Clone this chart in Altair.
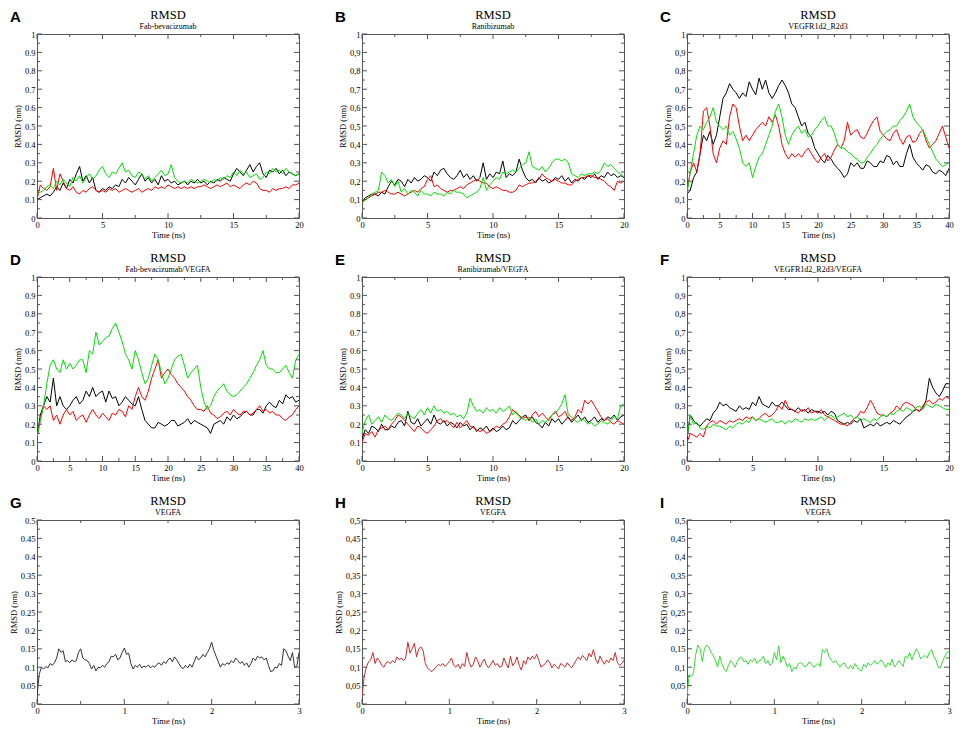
import altair as alt
import pandas as pd
import numpy as np

# ---------------- data (RMSD in hundredths of nm for A-F, thousandths for G-I) -------------
A_BLACK = [10,11,12,13,12,14,17,15,19,16, 21,19,24,28,20,23,19,22,15,14,
           16,15,17,16,18,17,21,19,22,20, 18,21,24,20,22,19,21,18,23,20,
           21,19,20,18,19,20,18,20,19,21, 19,20,18,20,19,21,20,22,21,20,
           24,27,25,23,26,29,25,28,30,24, 22,26,25,27,24,26,23,25,24,23, 24]
A_RED = [10,18,16,15,17,27,15,24,20,16, 15,17,14,13,15,14,16,17,15,14,
         15,14,16,15,16,14,15,16,15,14, 15,16,14,15,16,15,17,16,17,16,
         18,17,16,17,16,17,16,17,16,17, 17,18,17,16,17,18,17,18,19,17,
         18,17,16,18,19,18,20,19,16,15, 15,14,16,15,16,16,17,16,18,18, 19]
A_GREEN = [13,14,15,17,18,16,20,18,21,19, 17,22,20,23,19,22,24,21,23,26,
           28,24,22,25,24,27,30,25,26,23, 22,25,24,21,23,20,22,24,26,23,
           24,29,22,20,19,20,19,21,20,19, 20,21,20,19,21,20,22,21,23,22,
           25,23,26,24,25,22,23,24,21,22, 25,24,27,25,26,24,27,25,24,23, 24]

B_BLACK = [9,11,12,13,13,12,14,13,17,20, 18,21,20,17,21,19,22,20,21,23,
           22,20,25,23,26,27,24,22,21,23, 26,22,24,21,23,20,22,30,21,24,
           22,25,24,31,22,24,23,25,32,26, 22,20,21,19,22,20,21,19,20,22,
           21,23,20,22,19,21,20,22,21,23, 22,24,21,23,22,25,23,24,22,23, 22]
B_RED = [9,10,11,12,13,14,14,15,14,13, 13,14,13,12,13,14,15,14,16,17,
         21,23,17,18,16,15,14,15,15,16, 17,16,18,19,20,21,20,19,19,17,
         16,17,16,15,15,14,14,15,18,17, 18,19,19,20,21,24,22,21,20,21,
         20,19,19,18,18,20,21,22,22,23, 23,22,22,21,20,18,17,15,20,19, 20]
B_GREEN = [8,10,11,13,14,15,25,23,19,21, 17,20,14,16,13,15,14,12,15,13,
           13,12,14,13,13,12,14,13,15,14, 14,13,11,12,13,14,16,22,15,18,
           20,22,21,25,24,25,26,25,27,29, 30,36,28,27,26,28,25,27,30,32,
           32,31,32,30,24,23,22,24,23,24, 24,25,24,26,30,28,29,27,25,24, 22]

C_BLACK = [13,15,22,25,35,45,42,47,40,45, 55,65,68,73,70,68,65,68,66,74,
           70,67,76,70,75,68,65,68,72,75, 72,68,62,60,55,50,52,46,44,38,
           35,32,30,34,32,29,27,25,22,24, 30,28,30,27,27,31,30,28,28,31,
           30,34,33,29,31,28,28,35,40,33, 30,28,26,29,28,25,24,26,25,23, 27]
C_RED = [15,25,30,25,35,58,60,50,35,30, 38,42,40,55,62,60,50,42,45,42,
         45,48,50,52,50,55,52,56,50,40, 35,32,35,33,35,33,36,38,35,32,
         30,33,35,31,33,37,40,38,42,52, 45,47,48,44,43,46,50,53,55,47,
         45,43,42,46,48,43,40,44,45,41, 42,46,48,42,38,40,42,46,50,44, 38]
C_GREEN = [13,25,35,45,50,48,52,55,60,52, 50,48,50,45,47,43,38,30,28,30,
           22,28,33,35,40,45,50,58,62,55, 45,40,45,48,50,46,48,44,45,48,
           50,53,55,50,50,46,40,38,38,36, 35,33,32,30,30,33,35,38,40,43,
           45,47,48,50,50,53,55,58,62,55, 52,50,48,44,40,36,32,30,28,29, 30]

D_BLACK = [13,25,30,35,32,45,30,35,30,28, 30,33,35,31,33,38,35,40,35,37,
           38,32,38,34,35,30,32,35,33,31, 30,35,28,22,20,18,18,21,20,19,
           20,22,22,19,20,21,23,20,22,21, 20,19,18,15,20,21,22,20,24,22,
           25,23,24,26,27,25,25,28,28,26, 30,32,30,29,33,31,36,34,35,32, 33]
D_RED = [13,22,30,28,30,22,25,20,25,28, 25,27,22,24,25,21,25,28,25,23,
         26,24,22,26,25,28,27,24,30,28, 35,40,35,33,38,45,50,55,45,48,
         50,47,45,42,40,38,35,33,30,28, 28,27,30,26,25,23,24,26,27,25,
         28,26,25,27,27,25,26,28,30,27, 28,26,27,25,25,23,22,24,25,28, 30]
D_GREEN = [13,22,30,42,52,55,50,48,55,50, 53,50,52,55,55,48,60,58,70,63,
           65,67,68,72,75,70,65,58,55,50, 60,55,48,42,45,52,58,55,48,42,
           45,50,55,57,58,52,45,48,50,52, 40,32,28,30,35,38,40,42,38,36,
           35,36,38,40,42,45,48,52,55,60, 52,50,50,48,48,50,52,48,45,55, 58]

E_BLACK = [12,17,15,19,18,16,20,17,17,19, 18,21,22,19,27,21,20,23,19,21,
           23,20,25,21,20,22,19,21,20,18, 21,19,20,17,19,16,18,17,19,16,
           18,16,17,19,17,18,22,20,22,24, 25,22,24,21,20,18,21,19,23,21,
           23,20,22,24,21,23,25,22,24,21, 22,24,21,23,22,24,23,25,22,24, 25]
E_RED = [10,15,14,16,13,17,18,19,17,20, 22,25,24,22,20,18,16,19,18,16,
         15,17,19,22,23,21,22,20,18,21, 18,20,22,19,18,17,16,17,15,16,
         17,19,18,20,21,24,28,26,25,23, 24,22,25,27,24,26,24,22,25,27,
         24,25,27,23,22,24,28,26,33,31, 33,30,27,24,22,23,21,20,22,21, 20]
E_GREEN = [15,22,25,20,22,24,21,25,23,22, 24,26,25,23,26,24,23,26,28,25,
           29,26,30,27,28,26,27,25,26,24, 25,23,26,34,30,27,28,26,29,27,
           28,26,29,27,28,30,25,27,24,23, 22,24,21,23,20,22,21,23,25,26,
           28,31,36,25,24,22,21,23,22,20, 21,19,20,22,21,20,22,24,23,30, 31]

F_BLACK = [12,25,22,20,19,21,23,22,26,28, 32,30,31,29,28,27,30,28,29,28,
           32,30,35,31,30,29,32,30,30,32, 30,28,28,27,29,27,28,26,28,27,
           27,26,27,25,27,26,22,21,20,21, 20,22,21,23,18,19,20,19,21,19,
           20,21,20,22,21,20,22,24,25,27, 28,27,29,33,45,40,37,35,38,42, 42]
F_RED = [10,15,14,13,15,13,19,21,22,20, 22,21,20,22,21,22,23,22,24,23,
         24,22,23,25,26,24,25,27,30,28, 33,29,28,27,26,28,27,29,26,27,
         26,28,25,24,23,22,21,20,20,19, 21,23,24,27,26,29,33,30,26,25,
         25,24,26,27,30,28,31,32,31,30, 28,27,30,32,33,31,32,34,33,35, 34]
F_GREEN = [13,25,20,21,18,17,19,18,20,19, 19,18,17,19,18,20,21,20,22,21,
           24,22,23,22,21,22,23,21,21,22, 20,22,21,23,22,21,23,22,23,22,
           23,24,22,24,25,23,24,25,26,24, 25,23,24,22,23,22,21,23,22,24,
           25,24,26,25,27,28,27,29,28,27, 29,30,28,31,30,29,31,30,29,28, 28]

G_VEGFA = [20,80,100,95,102,98,110,105,112,125, 150,140,145,115,118,112,120,115,118,140,
           150,125,120,118,110,95,105,90,100,98, 105,100,110,115,130,128,135,120,125,140,
           152,135,138,110,95,105,100,108,98,103, 100,106,98,104,100,108,112,105,115,110,
           120,125,115,128,120,110,100,96,105,98, 108,100,115,130,120,125,135,128,140,150,
           168,145,130,115,100,110,105,112,108,118, 112,125,118,110,115,105,112,100,110,125,
           118,130,125,128,120,125,105,88,90,100, 98,110,105,150,145,130,118,140,100,102, 140]
H_VEGFA = [20,75,100,115,120,140,110,125,118,105, 100,112,115,110,118,112,128,120,125,118,
           125,168,138,150,165,128,150,155,145,110, 98,92,88,95,100,108,104,110,102,108,
           115,125,105,100,108,96,110,102,140,115, 100,108,128,118,100,112,122,105,98,108,
           118,105,110,100,102,125,110,98,130,104, 112,128,105,92,118,108,128,120,130,122,
           135,118,100,105,110,120,112,98,108,102, 95,110,106,100,112,104,98,108,118,128,
           120,132,125,118,138,128,148,122,110,130, 118,108,120,112,125,118,140,112,105,110, 120]
I_VEGFA = [20,80,75,85,135,160,150,115,150,160, 155,140,132,120,100,130,110,95,88,105,
           118,110,100,115,125,128,115,118,108,120, 115,125,110,118,120,130,110,118,105,110,
           140,120,158,112,130,118,100,110,88,100, 95,110,112,108,100,105,115,108,100,104,
           110,102,148,140,150,130,120,112,118,110, 100,108,112,100,96,105,95,110,100,92,
           90,108,100,112,104,110,118,108,115,120, 110,100,112,105,122,100,108,118,110,102,
           130,125,140,120,135,150,140,122,128,132, 125,140,148,130,120,100,98,115,128,140, 142]

# axis tick values
X20_MAJOR = [0, 5, 10, 15, 20]
X20_MINOR = [2.5, 7.5, 12.5, 17.5]
X40_MAJOR = [0, 5, 10, 15, 20, 25, 30, 35, 40]
X40_MINOR = [2.5, 7.5, 12.5, 17.5, 22.5, 27.5, 32.5, 37.5]
X3_MAJOR = [0, 1, 2, 3]
X3_MINOR = [0.5, 1.5, 2.5]
Y1_MAJOR = [0, 0.1, 0.2, 0.3, 0.4, 0.5, 0.6, 0.7, 0.8, 0.9, 1]
Y1_MINOR = [0.05, 0.15, 0.25, 0.35, 0.45, 0.55, 0.65, 0.75, 0.85, 0.95]
Y05_MAJOR = [0, 0.05, 0.1, 0.15, 0.2, 0.25, 0.3, 0.35, 0.4, 0.45, 0.5]
Y05_MINOR = [0.025, 0.075, 0.125, 0.175, 0.225, 0.275, 0.325, 0.375, 0.425, 0.475]

# ---------------- styling ----------------
W, H = 262, 184
SERIF = "'Liberation Serif', 'Times New Roman', Times, serif"
SANS = "'Liberation Sans', Arial, Helvetica, sans-serif"
FRAME = "#555555"
BLACK, RED, GREEN = "#000000", "#ff0000", "#00e000"


def panel(letter, subtitle, series, xmax, xmaj, xmin, ymax, ymaj, ymin, comma):
    xs = alt.Scale(domain=[0, xmax], nice=False, zero=False)
    ys = alt.Scale(domain=[0, ymax], nice=False, zero=False)
    lab = "replace(datum.label, '.', ',')" if comma else "datum.label"
    xax = alt.Axis(values=xmaj, format="~g", labelExpr=lab, title="Time (ns)")
    yax = alt.Axis(values=ymaj, format="~g", labelExpr=lab, title="RMSD (nm)")
    layers = []
    for vals, div, color in series:
        df = pd.DataFrame({"t": np.linspace(0, xmax, len(vals)),
                           "v": np.array(vals, dtype=float) / div})
        layers.append(
            alt.Chart(df).mark_line(color=color, strokeWidth=1, clip=True).encode(
                x=alt.X("t:Q", scale=xs, axis=xax),
                y=alt.Y("v:Q", scale=ys, axis=yax),
            )
        )
    # inward ticks on all four sides
    for vals, ln in ((xmaj, 5), (xmin, 3)):
        d = pd.DataFrame({"t": vals})
        layers.append(alt.Chart(d).mark_rule(color=FRAME, strokeWidth=1).encode(
            x=alt.X("t:Q", scale=xs, axis=xax), y=alt.value(H), y2=alt.value(H - ln)))
        layers.append(alt.Chart(d).mark_rule(color=FRAME, strokeWidth=1).encode(
            x=alt.X("t:Q", scale=xs, axis=xax), y=alt.value(0), y2=alt.value(ln)))
    for vals, ln in ((ymaj, 5), (ymin, 3)):
        d = pd.DataFrame({"v": vals})
        layers.append(alt.Chart(d).mark_rule(color=FRAME, strokeWidth=1).encode(
            y=alt.Y("v:Q", scale=ys, axis=yax), x=alt.value(0), x2=alt.value(ln)))
        layers.append(alt.Chart(d).mark_rule(color=FRAME, strokeWidth=1).encode(
            y=alt.Y("v:Q", scale=ys, axis=yax), x=alt.value(W), x2=alt.value(W - ln)))
    lab_df = pd.DataFrame({"l": [letter], "ti": ["RMSD"], "su": [subtitle]})
    layers.append(
        alt.Chart(lab_df).mark_text(
            font=SANS, fontWeight="bold", fontSize=15,
            align="left", baseline="alphabetic", color="black").encode(
            x=alt.value(-27), y=alt.value(-12), text="l:N")
    )
    layers.append(
        alt.Chart(lab_df).mark_text(
            font=SERIF, fontSize=12.5, fontWeight="normal", align="center",
            baseline="alphabetic", color="black").encode(
            x=alt.value(W / 2), y=alt.value(-15), text="ti:N")
    )
    layers.append(
        alt.Chart(lab_df).mark_text(
            font=SERIF, fontSize=8, fontWeight="normal", align="center",
            baseline="alphabetic", color="black").encode(
            x=alt.value(W / 2), y=alt.value(-5), text="su:N")
    )
    return alt.layer(*layers).properties(width=W, height=H)


panels = [
    panel("A", "Fab-bevacizumab",
          [(A_BLACK, 100, BLACK), (A_RED, 100, RED), (A_GREEN, 100, GREEN)],
          20, X20_MAJOR, X20_MINOR, 1, Y1_MAJOR, Y1_MINOR, False),
    panel("B", "Ranibizumab",
          [(B_BLACK, 100, BLACK), (B_RED, 100, RED), (B_GREEN, 100, GREEN)],
          20, X20_MAJOR, X20_MINOR, 1, Y1_MAJOR, Y1_MINOR, True),
    panel("C", "VEGFR1d2_R2d3",
          [(C_BLACK, 100, BLACK), (C_RED, 100, RED), (C_GREEN, 100, GREEN)],
          40, X40_MAJOR, X40_MINOR, 1, Y1_MAJOR, Y1_MINOR, True),
    panel("D", "Fab-bevacizumab/VEGFA",
          [(D_BLACK, 100, BLACK), (D_RED, 100, RED), (D_GREEN, 100, GREEN)],
          40, X40_MAJOR, X40_MINOR, 1, Y1_MAJOR, Y1_MINOR, False),
    panel("E", "Ranibizumab/VEGFA",
          [(E_BLACK, 100, BLACK), (E_RED, 100, RED), (E_GREEN, 100, GREEN)],
          20, X20_MAJOR, X20_MINOR, 1, Y1_MAJOR, Y1_MINOR, False),
    panel("F", "VEGFR1d2_R2d3/VEGFA",
          [(F_BLACK, 100, BLACK), (F_RED, 100, RED), (F_GREEN, 100, GREEN)],
          20, X20_MAJOR, X20_MINOR, 1, Y1_MAJOR, Y1_MINOR, True),
    panel("G", "VEGFA", [(G_VEGFA, 1000, "#333333")],
          3, X3_MAJOR, X3_MINOR, 0.5, Y05_MAJOR, Y05_MINOR, False),
    panel("H", "VEGFA", [(H_VEGFA, 1000, "#cc2a2a")],
          3, X3_MAJOR, X3_MINOR, 0.5, Y05_MAJOR, Y05_MINOR, True),
    panel("I", "VEGFA", [(I_VEGFA, 1000, "#33dd33")],
          3, X3_MAJOR, X3_MINOR, 0.5, Y05_MAJOR, Y05_MINOR, True),
]

chart = alt.concat(
    *panels, columns=3, spacing={"row": 59, "column": 63}, bounds="flush", padding=0
).configure_view(
    stroke=FRAME, strokeWidth=1
).configure_axis(
    grid=False, ticks=False, domain=False,
    labelFont=SERIF, labelFontSize=8.5, labelColor="black",
    titleFont=SERIF, titleFontSize=8.5, titleFontWeight="normal", titleColor="black",
    labelFlush=False, labelPadding=2, titlePadding=2, labelOverlap=False,
)

chart.save("out.html", embed_options={"renderer": "svg", "actions": False})
